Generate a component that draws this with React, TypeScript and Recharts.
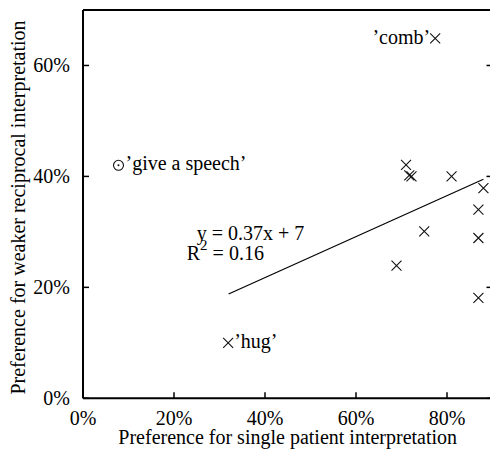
import { ReferenceDot, ReferenceLine, Scatter, ScatterChart, XAxis, YAxis } from 'recharts'

// single-patient preference (x) vs weaker reciprocal preference (y), in %
const pointX = [71.0, 71.7, 72.2, 81.0, 88.0, 86.9, 75.0, 86.9, 68.9, 86.9]
const pointY = [42.1, 40.2, 40.0, 40.0, 37.9, 34.0, 30.1, 28.9, 23.9, 18.1]

const combPoint = { x: 77.4, y: 64.9, label: '’comb’' }
const hugPoint = { x: 31.9, y: 10.0, label: '’hug’' }
const speechPoint = { x: 7.8, y: 42.0, label: '’give a speech’' }

const trendX = [32, 88]
const trendY = [18.8, 39.5]
const equation = 'y = 0.37x + 7'
const rSquared = '0.16'

const xTicks = [0, 20, 40, 60, 80]
const yTicks = [0, 20, 40, 60]

const points = pointX.map((x, i) => ({ x, y: pointY[i] }))

const FONT = 'Liberation Serif, DejaVu Serif, serif'
const INK = '#000'
const txt = { fontFamily: FONT, fontSize: 20 }

const cross = (cx: number, cy: number) => (
  <path
    d={`M${cx - 5},${cy - 5}L${cx + 5},${cy + 5}M${cx - 5},${cy + 5}L${cx + 5},${cy - 5}`}
    stroke="#111"
    strokeWidth={1.1}
    fill="none"
  />
)

const CrossShape = (props: any) => cross(props.cx, props.cy)

const CombShape = (props: any) => (
  <g>
    {cross(props.cx, props.cy)}
    <text x={props.cx - 5} y={props.cy + 6} textAnchor="end" style={txt} fill={INK}>
      {props.payload.label}
    </text>
  </g>
)

const HugShape = (props: any) => (
  <g>
    {cross(props.cx, props.cy)}
    <text x={props.cx + 6} y={props.cy + 5} style={txt} fill={INK}>
      {props.payload.label}
    </text>
  </g>
)

const SpeechShape = (props: any) => (
  <g>
    <circle cx={props.cx} cy={props.cy} r={5} fill="none" stroke="#111" strokeWidth={1.1} />
    <circle cx={props.cx} cy={props.cy} r={1} fill="#111" />
    <text x={props.cx + 7} y={props.cy + 5} style={txt} fill={INK}>
      {props.payload.label}
    </text>
  </g>
)

const EquationShape = (props: any) => (
  <g fill={INK}>
    <text x={props.cx} y={props.cy} style={txt}>
      {equation}
    </text>
    <text x={props.cx - 10} y={props.cy + 20} style={txt}>
      R<tspan dy={-10} style={{ fontSize: 15 }}>2</tspan>
      <tspan dy={10}> = {rSquared}</tspan>
    </text>
  </g>
)

const BottomTick = (props: any) => (
  <g>
    <line x1={props.x} y1={props.y} x2={props.x} y2={props.y - 6} stroke={INK} strokeWidth={1.5} />
    <text x={props.x} y={props.y + 26.7} textAnchor="middle" style={txt} fill={INK}>
      {props.payload.value}%
    </text>
  </g>
)

const TopTick = (props: any) => (
  <line x1={props.x} y1={props.y} x2={props.x} y2={props.y + 6} stroke={INK} strokeWidth={1.5} />
)

const LeftTick = (props: any) => (
  <g>
    <line x1={props.x} y1={props.y} x2={props.x + 6} y2={props.y} stroke={INK} strokeWidth={1.5} />
    <text x={props.x - 13} y={props.y + 6.6} textAnchor="end" style={txt} fill={INK}>
      {props.payload.value}%
    </text>
  </g>
)

const RightTick = (props: any) => (
  <line x1={props.x} y1={props.y} x2={props.x - 6} y2={props.y} stroke={INK} strokeWidth={1.5} />
)

const axisLine = { stroke: INK, strokeWidth: 2 }

export default function App() {
  return (
    <div style={{ width: 490, height: 449, overflow: 'hidden', background: '#fff' }}>
      <style>{'html,body{margin:0;overflow:hidden;background:#fff}'}</style>
      <ScatterChart width={500} height={449} margin={{ top: 0, right: 0, bottom: 0, left: 0 }}>
        <XAxis
          xAxisId="b"
          type="number"
          dataKey="x"
          domain={[0, 90]}
          ticks={xTicks}
          height={50.7}
          tickSize={0}
          tickMargin={0}
          tickLine={false}
          axisLine={axisLine}
          tick={BottomTick}
          interval={0}
          allowDataOverflow
          label={{
            content: () => (
              <text x={287.7} y={444} textAnchor="middle" style={txt} fill={INK}>
                Preference for single patient interpretation
              </text>
            ),
          }}
        />
        <XAxis
          xAxisId="t"
          orientation="top"
          type="number"
          domain={[0, 90]}
          ticks={xTicks}
          height={10}
          tickSize={0}
          tickMargin={0}
          tickLine={false}
          axisLine={axisLine}
          tick={TopTick}
          interval={0}
          allowDataOverflow
        />
        <YAxis
          yAxisId="l"
          type="number"
          dataKey="y"
          domain={[0, 70]}
          ticks={yTicks}
          width={83}
          tickSize={0}
          tickMargin={0}
          tickLine={false}
          axisLine={axisLine}
          tick={LeftTick}
          interval={0}
          allowDataOverflow
          label={{
            content: () => (
              <text transform="translate(25,207.5) rotate(-90)" textAnchor="middle" style={txt} fill={INK}>
                Preference for weaker reciprocal interpretation
              </text>
            ),
          }}
        />
        <YAxis
          yAxisId="r"
          orientation="right"
          type="number"
          domain={[0, 70]}
          ticks={yTicks}
          width={7.5}
          tickSize={0}
          tickMargin={0}
          tickLine={false}
          axisLine={axisLine}
          tick={RightTick}
          interval={0}
          allowDataOverflow
        />
        <ReferenceLine
          xAxisId="b"
          yAxisId="l"
          segment={[
            { x: trendX[0], y: trendY[0] },
            { x: trendX[1], y: trendY[1] },
          ]}
          stroke={INK}
          strokeWidth={1.2}
          ifOverflow="visible"
        />
        <ReferenceDot xAxisId="b" yAxisId="l" x={25} y={28.6} r={0} shape={EquationShape} ifOverflow="visible" />
        <Scatter xAxisId="b" yAxisId="l" data={points} shape={CrossShape} isAnimationActive={false} />
        <Scatter xAxisId="b" yAxisId="l" data={[combPoint]} shape={CombShape} isAnimationActive={false} />
        <Scatter xAxisId="b" yAxisId="l" data={[hugPoint]} shape={HugShape} isAnimationActive={false} />
        <Scatter xAxisId="b" yAxisId="l" data={[speechPoint]} shape={SpeechShape} isAnimationActive={false} />
      </ScatterChart>
    </div>
  )
}
